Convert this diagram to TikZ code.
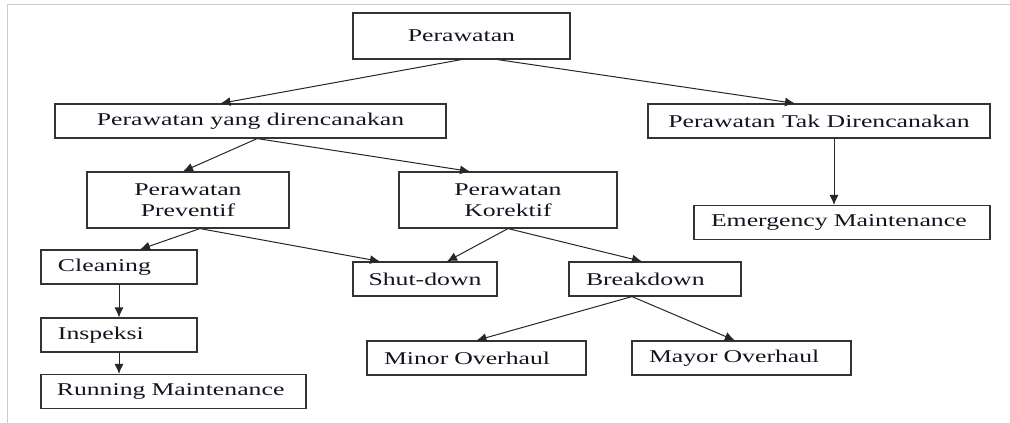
\documentclass[tikz,border=0pt]{standalone}
\usepackage{fontspec}
\setmainfont{Liberation Serif}[FakeStretch=1.43]
\usetikzlibrary{shapes.geometric, arrows.meta}
\definecolor{ink}{HTML}{141420}
\tikzstyle{process} = [rectangle, minimum height=20.4pt, inner sep=0pt, text centered, align=center, draw=black!80, line width=0.7pt, text=ink, font=\fontsize{10.8}{12.5}\selectfont]
\tikzstyle{item} = [process, align=left, inner xsep=10.2pt]
\tikzstyle{arrow} = [line width=0.6pt, draw=black!85, ->, >={Latex[length=6pt,width=5.4pt]}]

\begin{document}
\begin{tikzpicture}[node distance=47.4pt]
\useasboundingbox (0,0) rectangle (606pt,-253.8pt);
\draw [black!20, line width=0.6pt] (606pt,-3pt) -- (4.2pt,-3pt) -- (4.2pt,-253.8pt);

% Top
\node (P) [process, minimum width=130.2pt, minimum height=27.6pt] at (276.9pt,-21.6pt) {Perawatan};

\node (PR) [process, below of=P, yshift=-3.6pt, xshift=-126.6pt, minimum width=234.6pt] {Perawatan yang direncanakan};
\node (PT) [process, below of=P, yshift=-3.6pt, xshift=214.5pt, minimum width=205.2pt] {Perawatan Tak Direncanakan};

% Planned side
\node (PP) [process, below of=PR, xshift=-37.5pt, minimum width=121.2pt, minimum height=33.6pt] {Perawatan\\Preventif};
\node (PK) [process, below of=PR, xshift=154.5pt, minimum width=130.8pt, minimum height=33.6pt] {Perawatan\\Korektif};

\node (C) [item, below of=PP, yshift=7.2pt, xshift=-41.4pt, text width=73.2pt] {Cleaning};
\node (I) [item, below of=C, yshift=6.6pt, text width=73.2pt] {Inspeksi};
\node (RM) [item, below of=I, yshift=13.5pt, xshift=32.7pt, text width=140pt, inner xsep=9.5pt] {Running Maintenance};

\node (SD) [process, below of=PP, xshift=142.2pt, minimum width=86.4pt] {Shut-down};
\node (B) [item, below of=PK, xshift=88.2pt, text width=82.8pt] {Breakdown};

\node (MO) [item, below of=B, xshift=-107.1pt, text width=111pt] {Minor Overhaul};
\node (MY) [item, below of=B, xshift=51.9pt, text width=111pt] {Mayor Overhaul};

% Unplanned side
\node (EM) [item, below of=PT, yshift=-13.5pt, xshift=13.8pt, text width=157.2pt] {Emergency Maintenance};

% Connecting arrows
\draw [arrow] (P.south) -- ([xshift=-18pt]PR.north);
\draw [arrow] ([xshift=21.6pt]P.south) -- ([xshift=-14.4pt]PT.north);

\draw [arrow] ([xshift=4pt]PR.south) -- ([xshift=-3pt]PP.north);
\draw [arrow] ([xshift=4pt]PR.south) -- ([xshift=-22.8pt]PK.north);
\draw [arrow] ([xshift=9pt]PT.south) -- ([xshift=9pt]PT.south |- EM.north);

\draw [arrow] ([xshift=7.2pt]PP.south) -- ([xshift=12.6pt]C.north);
\draw [arrow] ([xshift=7.2pt]PP.south) -- ([xshift=-27pt]SD.north);
\draw [arrow] (PK.south) -- ([xshift=13.2pt]SD.north);
\draw [arrow] (PK.south) -- ([xshift=-7.8pt]B.north);

\draw [arrow] (C.south) -- (I.north);
\draw [arrow] (I.south) -- (I.south |- RM.north);

\draw [arrow] ([xshift=-13.8pt]B.south) -- (MO.north);
\draw [arrow] ([xshift=-13.8pt]B.south) -- ([xshift=-4pt]MY.north);

\end{tikzpicture}
\end{document}
